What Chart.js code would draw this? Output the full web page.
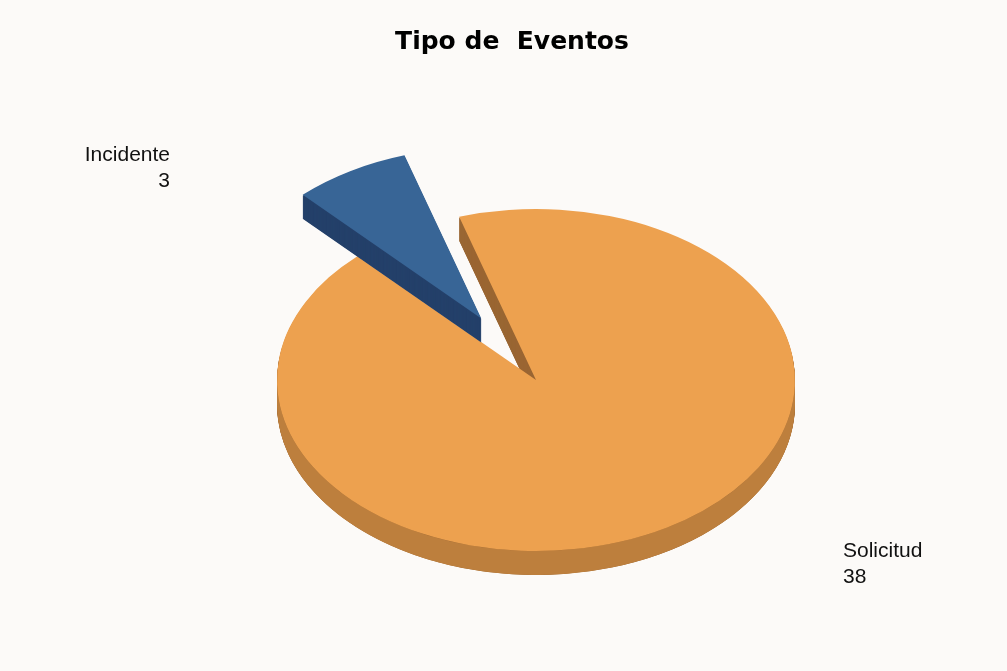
<!DOCTYPE html>
<html>
<head>
<meta charset="utf-8">
<title>Tipo de Eventos</title>
<script src="https://cdn.jsdelivr.net/npm/chart.js@4.4.1/dist/chart.umd.min.js"></script>
<style>
  html, body { margin: 0; padding: 0; background: #fcfaf8; overflow: hidden; }
  #wrap { width: 1007px; height: 671px; }
</style>
</head>
<body>
<div id="wrap"><canvas id="chart"></canvas></div>
<script>
const chartTitle = "Tipo de  Eventos";
const categories = ["Incidente", "Solicitud"];
const counts = [3, 38];
const colors = ["#386596", "#eda14f"];

// angular pieces of [start, end] that face the viewer (lower half of the ellipse)
function frontRanges(a0, a1) {
  const out = [];
  for (let n = -2; n <= 2; n++) {
    const lo = Math.max(a0, n * 2 * Math.PI);
    const hi = Math.min(a1, n * 2 * Math.PI + Math.PI);
    if (hi > lo) out.push([lo, hi]);
  }
  return out;
}

// fakes a tilted 3D pie: walls + rim under the flattened top faces
const pie3d = {
  id: "pie3d",
  beforeDatasetsDraw(chart, args, opts) {
    const ctx = chart.ctx;
    const arcs = chart.getDatasetMeta(0).data;
    const k = opts.tilt;
    const depth = opts.depth;
    const explode = opts.explode;
    // exploded slices are painted last
    const order = arcs.map((a, i) => i).sort((a, b) => (explode[a] || 0) - (explode[b] || 0));

    order.forEach(i => {
      const arc = arcs[i];
      const { x: cx, y: cy, startAngle, endAngle, outerRadius: r } =
        arc.getProps(["x", "y", "startAngle", "endAngle", "outerRadius"]);
      const mid = (startAngle + endAngle) / 2;
      const ox = Math.cos(mid) * (explode[i] || 0);
      const oy = Math.sin(mid) * (explode[i] || 0);

      const view = (d, fn) => {
        ctx.save();
        ctx.translate(0, d);
        ctx.translate(cx, cy);
        ctx.scale(1, k);
        ctx.translate(-cx + ox, -cy + oy);
        fn();
        ctx.restore();
      };

      // side walls: the slice stacked downwards
      ctx.fillStyle = opts.wallColors[i];
      for (let d = depth; d >= 1; d -= 0.5) {
        view(d, () => {
          ctx.beginPath();
          ctx.moveTo(cx, cy);
          ctx.arc(cx, cy, r, startAngle, endAngle);
          ctx.closePath();
          ctx.fill();
        });
      }

      // outer rim, only where it faces front
      const pt = (t, d) => [cx + ox + r * Math.cos(t), cy + k * (oy + r * Math.sin(t)) + d];
      ctx.fillStyle = opts.rimColors[i];
      frontRanges(startAngle, endAngle).forEach(([a0, a1]) => {
        const steps = 180;
        ctx.beginPath();
        for (let s = 0; s <= steps; s++) {
          const [px, py] = pt(a0 + (a1 - a0) * s / steps, 0);
          s ? ctx.lineTo(px, py) : ctx.moveTo(px, py);
        }
        for (let s = steps; s >= 0; s--) {
          const [px, py] = pt(a0 + (a1 - a0) * s / steps, depth);
          ctx.lineTo(px, py);
        }
        ctx.closePath();
        ctx.fill();
      });

      // top face
      view(0, () => arc.draw(ctx));
    });
    return false;
  }
};

const textLayer = {
  id: "textLayer",
  afterDraw(chart, args, opts) {
    const ctx = chart.ctx;
    const arc = chart.getDatasetMeta(0).data[0];
    ctx.save();
    ctx.fillStyle = "#000";
    ctx.font = "bold 25px 'DejaVu Sans'";
    ctx.textAlign = "center";
    ctx.textBaseline = "alphabetic";
    ctx.fillText(chartTitle, opts.titleX, opts.titleY);

    ctx.font = "21px 'Liberation Sans'";
    ctx.fillStyle = "#111";
    categories.forEach((name, i) => {
      const a = opts.anchors[i];
      ctx.textAlign = a.align;
      const x = arc.x + a.dx;
      const y = arc.y + a.dy;
      ctx.fillText(name, x, y);
      ctx.fillText(String(counts[i]), x, y + 26);
    });
    ctx.restore();
  }
};

new Chart(document.getElementById("chart"), {
  type: "pie",
  data: {
    labels: categories,
    datasets: [{
      data: counts,
      backgroundColor: colors,
      borderWidth: 0
    }]
  },
  options: {
    responsive: true,
    maintainAspectRatio: false,
    animation: false,
    events: [],
    rotation: -43.6,
    radius: 259,
    layout: { padding: { left: 65, right: 0, top: 89, bottom: 0 } },
    plugins: {
      legend: { display: false },
      tooltip: { enabled: false },
      pie3d: {
        tilt: 0.66,
        depth: 24,
        explode: [108, 0],
        wallColors: ["#24406a", "#9a6633"],
        rimColors: ["#24406a", "#bd7f3d"]
      },
      textLayer: {
        titleX: 512,
        titleY: 49,
        anchors: [
          { dx: -366, dy: -219, align: "right" },
          { dx: 307, dy: 177, align: "left" }
        ]
      }
    }
  },
  plugins: [pie3d, textLayer]
});
</script>
</body>
</html>
